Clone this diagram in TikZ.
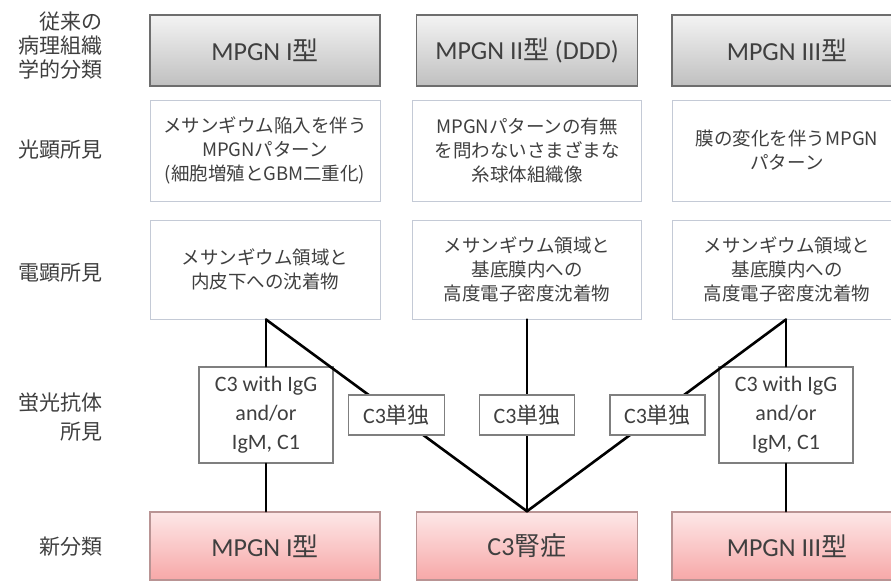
\documentclass[tikz,border=0pt]{standalone}
\usepackage{fontspec}
\setmainfont{Carlito}
\newfontfamily\jp{Noto Sans CJK JP}
\usetikzlibrary{positioning}
\definecolor{sumi}{HTML}{3F3F3F}
\definecolor{haiwaku}{HTML}{6E6E6E}
\definecolor{haiue}{HTML}{F3F3F3}
\definecolor{haishita}{HTML}{C0C0C0}
\definecolor{usuwaku}{HTML}{C4CAD6}
\definecolor{keiwaku}{HTML}{7F7F7F}
\definecolor{momoue}{HTML}{FDE7E7}
\definecolor{momoshita}{HTML}{F7A8A8}
\definecolor{momowaku}{HTML}{B99494}

\begin{document}
\begin{tikzpicture}[x=1pt, y=-1pt, every node/.style={text=sumi, inner sep=0pt},
  kyu/.style={draw=haiwaku, line width=1.8pt, top color=haiue, bottom color=haishita, minimum height=71pt, font=\fontsize{26}{30}\selectfont},
  kenbi/.style={draw=usuwaku, line width=1pt, fill=white, align=center, font=\jp\fontsize{18.5}{24}\selectfont},
  kei/.style={draw=keiwaku, line width=1.5pt, fill=white, align=center, font=\fontsize{22}{29}\selectfont},
  shin/.style={draw=momowaku, line width=1.5pt, top color=momoue, bottom color=momoshita, minimum height=68pt, font=\fontsize{26}{30}\selectfont},
  rotulo/.style={anchor=east, align=right, font=\jp\fontsize{21}{24}\selectfont},
  sen/.style={black, line width=2.6pt, line cap=round}]
\useasboundingbox (0,0) rectangle (891,581);
\clip (0,0) rectangle (891,581);

% ================= rotulos (izquierda) =================
\node[rotulo] (r1) at (103,46) {従来の\\病理組織\\学的分類};
\node[rotulo] (r2) at (103,150) {光顕所見};
\node[rotulo] (r3) at (103,273) {電顕所見};
\node[rotulo, font=\jp\fontsize{21}{29}\selectfont] (r4) at (103,417) {蛍光抗体\\所見};
\node[rotulo] (r5) at (103,547) {新分類};

% ================= clasificacion antigua =================
\node[kyu, minimum width=230pt] (kyu1) at (265,50.5) {MPGN I{\jp 型}};
\node[kyu, minimum width=221pt] (kyu2) at (527,50.5) {MPGN II{\jp 型} (DDD)};
\node[kyu, minimum width=230pt] (kyu3) at (787,50.5) {MPGN III{\jp 型}};

% ================= microscopia optica =================
\node[kenbi, minimum width=230pt, minimum height=101pt] (lm1) at (265,150.5) {メサンギウム陥入を伴う\\MPGNパターン\\(細胞増殖とGBM二重化)};
\node[kenbi, minimum width=229pt, minimum height=101pt] (lm2) at (527,150.5) {MPGNパターンの有無\\を問わないさまざまな\\糸球体組織像};
\node[kenbi, minimum width=230pt, minimum height=101pt] (lm3) at (787,150.5) {膜の変化を伴うMPGN\\パターン};

% ================= microscopia electronica =================
\node[kenbi, minimum width=230pt, minimum height=99pt] (em1) at (265,269.5) {メサンギウム領域と\\内皮下への沈着物};
\node[kenbi, minimum width=229pt, minimum height=99pt] (em2) at (527,269.5) {メサンギウム領域と\\基底膜内への\\高度電子密度沈着物};
\node[kenbi, minimum width=230pt, minimum height=99pt] (em3) at (787,269.5) {メサンギウム領域と\\基底膜内への\\高度電子密度沈着物};

% ================= clasificacion nueva =================
\node[shin, minimum width=230pt] (shin1) at (265,546) {MPGN I{\jp 型}};
\node[shin, minimum width=221pt] (shin2) at (527,546) {C3{\jp 腎症}};
\node[shin, minimum width=230pt] (shin3) at (787,546) {MPGN III{\jp 型}};

% ================= inmunofluorescencia =================
\node[kei, minimum width=134pt, minimum height=96pt] (kei1) at (266,415) {C3 with IgG\\and/or\\IgM, C1};
\node[kei, minimum width=134pt, minimum height=96pt] (kei3) at (786,415) {C3 with IgG\\and/or\\IgM, C1};
\coordinate (bun1) at (em1.south -| kei1.north);
\coordinate (bun3) at (em3.south -| kei3.north);

% lineas
\draw[sen] (bun1) -- (kei1.north);
\draw[sen] (kei1.south) -- (kei1.south |- shin1.north);
\draw[sen] (bun1) -- (shin2.north);
\draw[sen] (em2.south) -- (shin2.north);
\draw[sen] (bun3) -- (shin2.north);
\draw[sen] (bun3) -- (kei3.north);
\draw[sen] (kei3.south) -- (kei3.south |- shin3.north);

% C3 solo (encima de las lineas)
\node[kei, minimum width=96pt, minimum height=40pt] (tan1) at (396.5,415) {C3{\jp 単独}};
\node[kei, minimum width=95pt, minimum height=40pt] (tan2) at (527,415) {C3{\jp 単独}};
\node[kei, minimum width=95pt, minimum height=40pt] (tan3) at (657.5,415) {C3{\jp 単独}};

\end{tikzpicture}
\end{document}
